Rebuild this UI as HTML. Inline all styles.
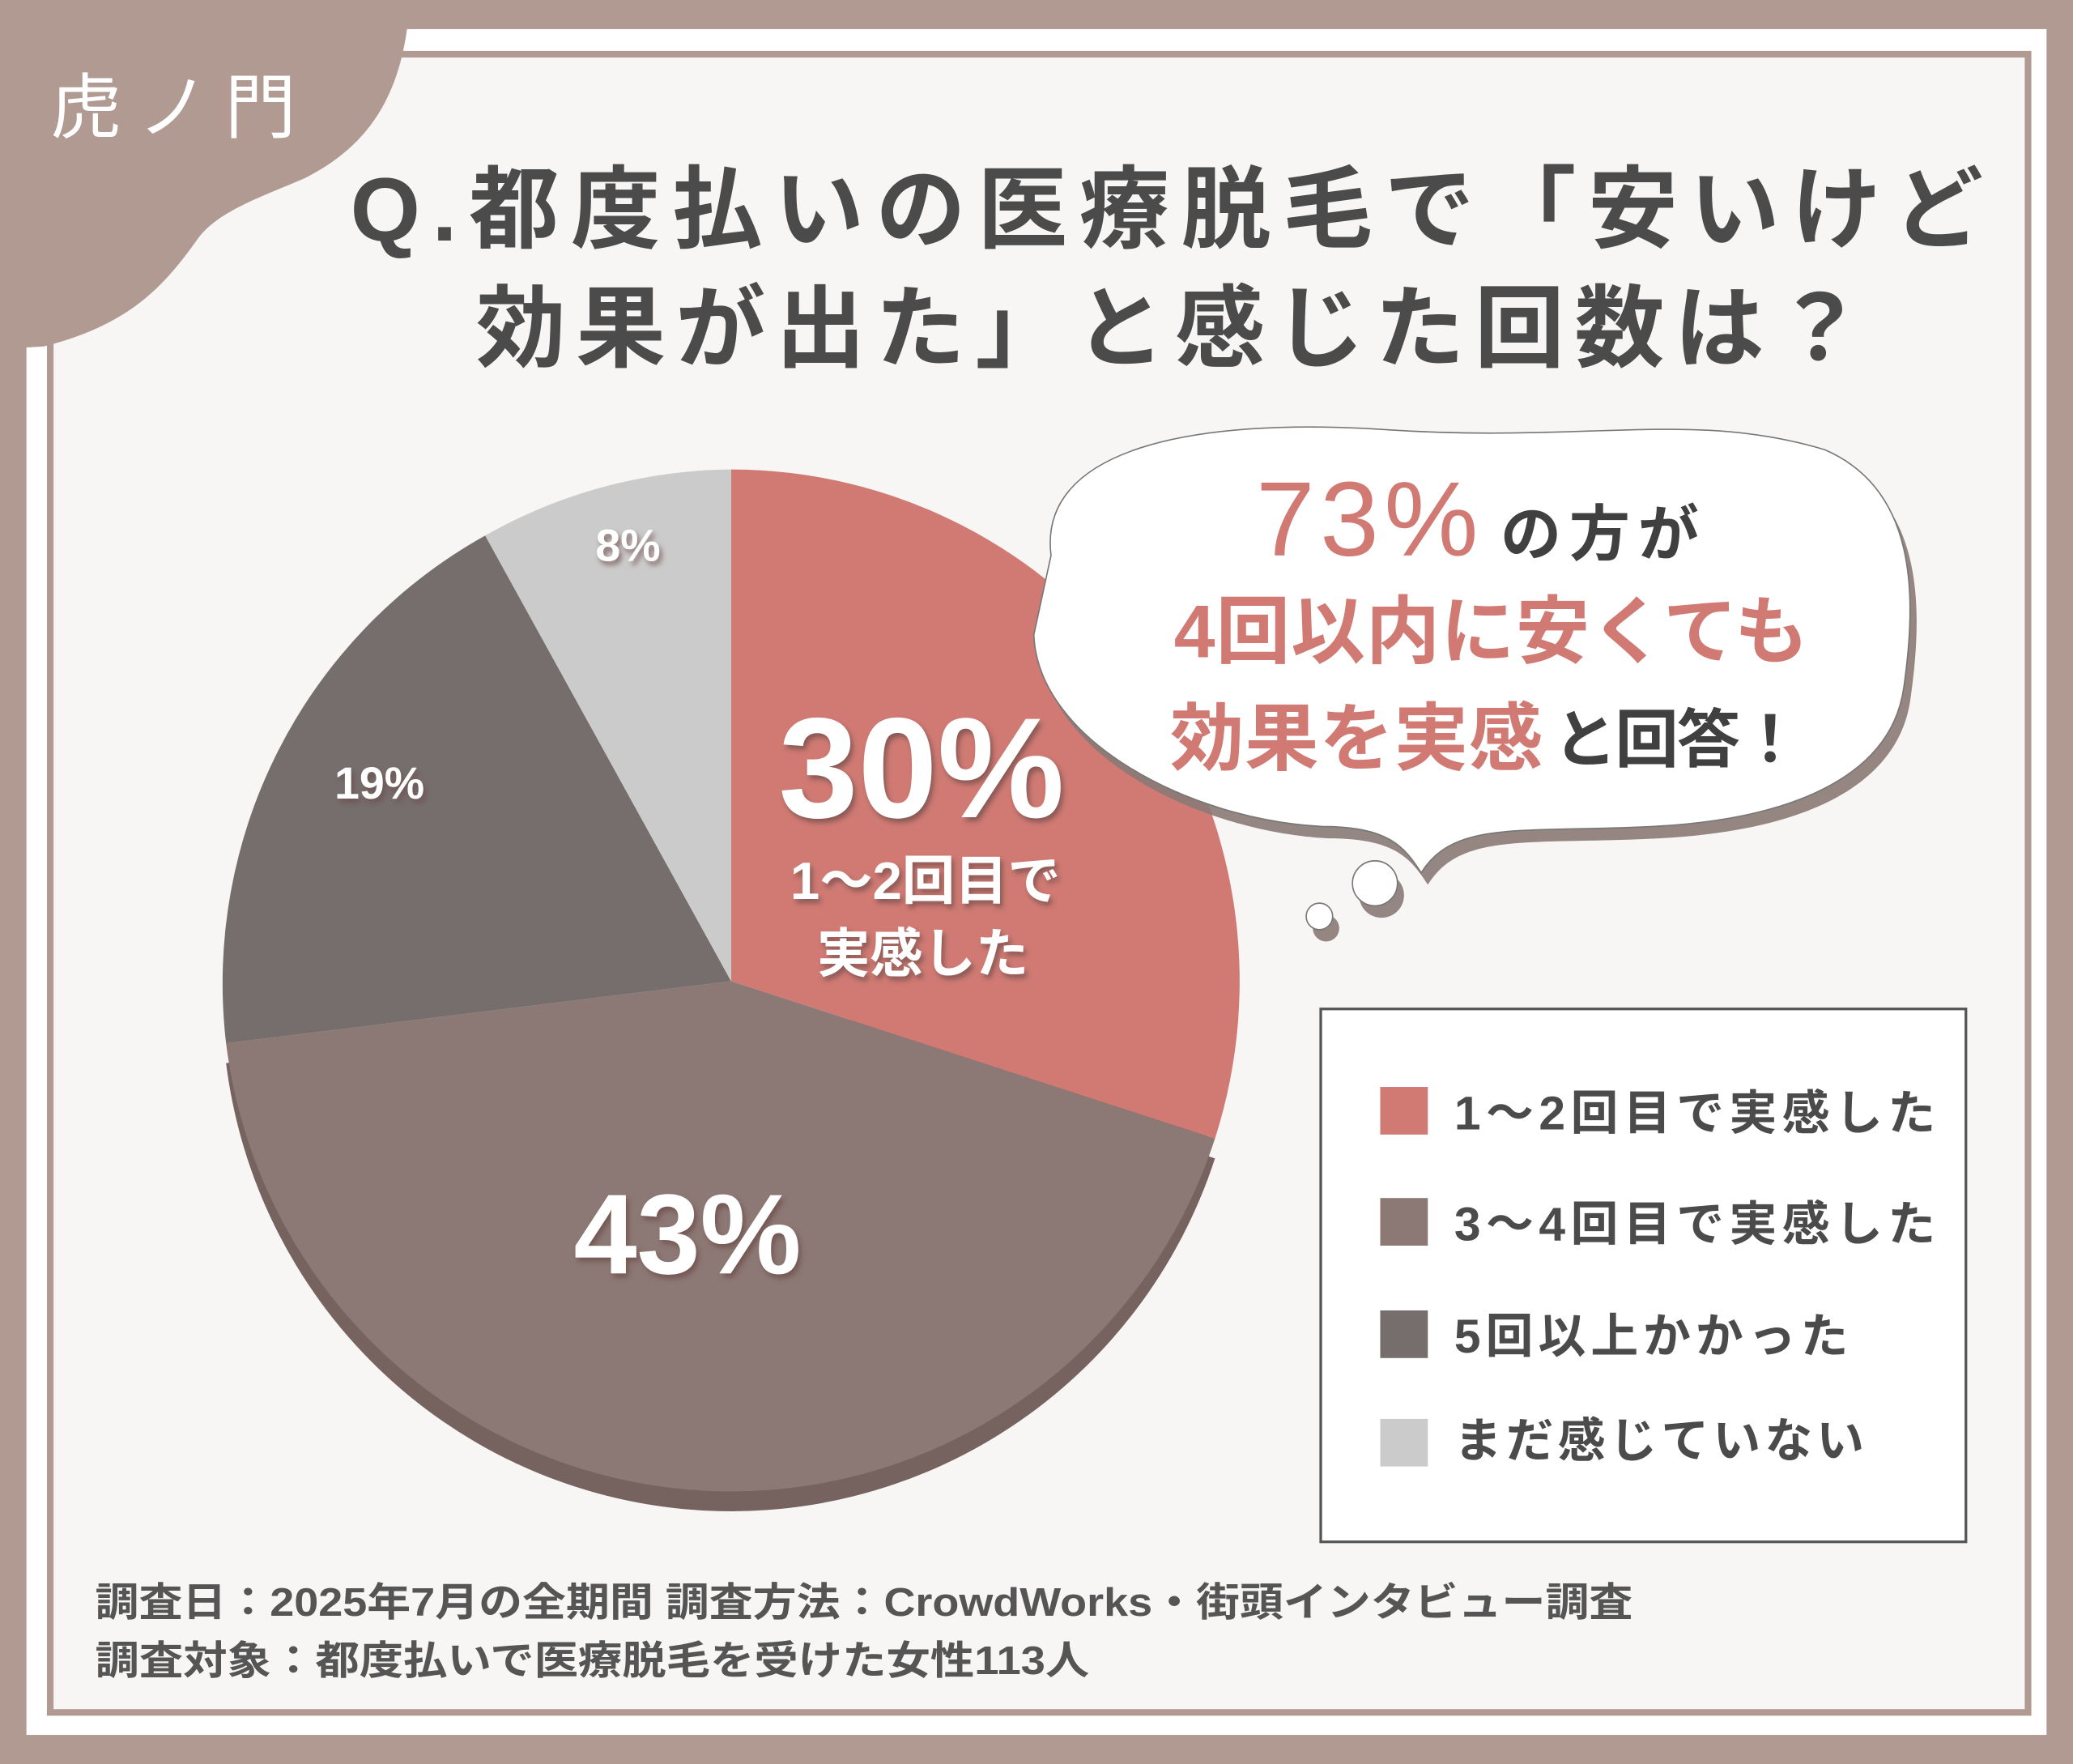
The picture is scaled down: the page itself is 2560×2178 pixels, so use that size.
<!DOCTYPE html>
<html><head><meta charset="utf-8"><style>
html,body{margin:0;padding:0;background:#b09a92;}
svg{display:block}
text{font-family:"Liberation Sans","Noto Sans CJK JP",sans-serif;}
</style></head><body>
<svg width="2560" height="2178" viewBox="0 0 1568 1334" xmlns="http://www.w3.org/2000/svg">
<defs>
<filter id="ts" x="-20%" y="-20%" width="140%" height="140%"><feDropShadow dx="2" dy="3" stdDeviation="2" flood-color="#6a4a46" flood-opacity="0.7"/></filter>
</defs>
<rect x="0" y="0" width="1568" height="1334" fill="#b09a92"/>
<rect x="20" y="22" width="1528" height="1290" fill="#ffffff"/>
<rect x="38" y="41" width="1496" height="1254" fill="#f7f6f5" stroke="#b09a92" stroke-width="5"/>
<path d="M0,0 H310 C306,70 280,110 230,135 C195,150 165,160 150,180 C125,215 100,245 33,262 L0,264 Z" fill="#b09a92"/>
<text x="38" y="100" font-size="54" fill="#fff" letter-spacing="12">虎ノ門</text>
<text x="265" y="182" font-size="68" font-weight="bold" fill="#4b4b4b" textLength="1235" lengthAdjust="spacing">Q.都度払いの医療脱毛で「安いけど</text>
<text x="360" y="272" font-size="68" font-weight="bold" fill="#4b4b4b" textLength="1050" lengthAdjust="spacing">効果が出た」と感じた回数は？</text>
<!-- pie 3d -->
<g transform="translate(0,15)">
<path d="M553,742 L919,861 A385,387 0 0 1 171,789 Z" fill="#76625e"/>
<path d="M553,742 L909,860 A385,387 0 0 0 920,800 Z" fill="#b0625c"/>
</g>
<path d="M553,742 L553,355 A385,387 0 0 1 919,861 Z" fill="#d07a73"/>
<path d="M553,742 L919,861 A385,387 0 0 1 171,789 Z" fill="#8c7874"/>
<path d="M553,742 L171,789 A385,387 0 0 1 367,405 Z" fill="#756e6d"/>
<path d="M553,742 L367,405 A385,387 0 0 1 553,355 Z" fill="#cbcbcb"/>
<g fill="#fff" font-weight="bold" filter="url(#ts)" text-anchor="middle">
<text x="697" y="618" font-size="108">30%</text>
<text x="700" y="680" font-size="40">1〜2回目で</text>
<text x="698" y="735" font-size="40">実感した</text>
<text x="520" y="963" font-size="86">43%</text>
<text x="287" y="604" font-size="34">19%</text>
<text x="475" y="424" font-size="34">8%</text>
</g>
<!-- bubble -->
<g transform="translate(5,9)" fill="#8a7a76" opacity="0.9">
<path d="M795,420 C785,340 900,315 1050,325 C1200,335 1280,310 1380,340 C1450,370 1450,450 1440,520 C1430,590 1350,620 1250,625 C1150,630 1100,620 1075,660 C1062,640 1050,625 1000,625 C900,620 785,560 782,480 Z"/>
<circle cx="1040" cy="668" r="17"/><circle cx="998" cy="693" r="10"/>
</g>
<path d="M795,420 C785,340 900,315 1050,325 C1200,335 1280,310 1380,340 C1450,370 1450,450 1440,520 C1430,590 1350,620 1250,625 C1150,630 1100,620 1075,660 C1062,640 1050,625 1000,625 C900,620 785,560 782,480 Z" fill="#fff" stroke="#777" stroke-width="1"/>
<circle cx="1040" cy="668" r="17" fill="#fff" stroke="#777" stroke-width="1"/>
<circle cx="998" cy="693" r="10" fill="#fff" stroke="#777" stroke-width="1"/>
<text x="950" y="420" font-size="80" fill="#d07a73" letter-spacing="4">73%</text>
<text x="1135" y="420" font-size="46" font-weight="bold" fill="#404040" letter-spacing="6">の方が</text>
<text x="888" y="497" font-size="56" font-weight="bold" fill="#d07a73" textLength="480" lengthAdjust="spacing">4回以内に安くても</text>
<text x="885" y="578" font-size="56" font-weight="bold" fill="#d07a73" textLength="282" lengthAdjust="spacing">効果を実感</text>
<text x="1175" y="576" font-size="48" font-weight="bold" fill="#404040" textLength="188" lengthAdjust="spacing">と回答！</text>
<!-- legend -->
<rect x="999" y="763" width="488" height="403" fill="#fff" stroke="#555" stroke-width="2"/>
<rect x="1044" y="822" width="36" height="36" fill="#d07a73"/>
<rect x="1044" y="906" width="36" height="36" fill="#8c7874"/>
<rect x="1044" y="991" width="36" height="36" fill="#756e6d"/>
<rect x="1044" y="1073" width="36" height="36" fill="#cbcbcb"/>
<g font-size="36" font-weight="bold" fill="#4b4b4b">
<text x="1100" y="854" textLength="364" lengthAdjust="spacing">1〜2回目で実感した</text>
<text x="1100" y="938" textLength="364" lengthAdjust="spacing">3〜4回目で実感した</text>
<text x="1100" y="1023" textLength="298" lengthAdjust="spacing">5回以上かかった</text>
<text x="1100" y="1102" textLength="310" lengthAdjust="spacing">まだ感じていない</text>
</g>
<g font-size="30" font-weight="bold" fill="#555">
<text x="72" y="1222" textLength="1163" lengthAdjust="spacingAndGlyphs">調査日：2025年7月の全期間  調査方法：CrowdWorks・街頭インタビュー調査</text>
<text x="72" y="1266" textLength="752" lengthAdjust="spacingAndGlyphs">調査対象：都度払いで医療脱毛を受けた女性113人</text>
</g>
</svg>
</body></html>
